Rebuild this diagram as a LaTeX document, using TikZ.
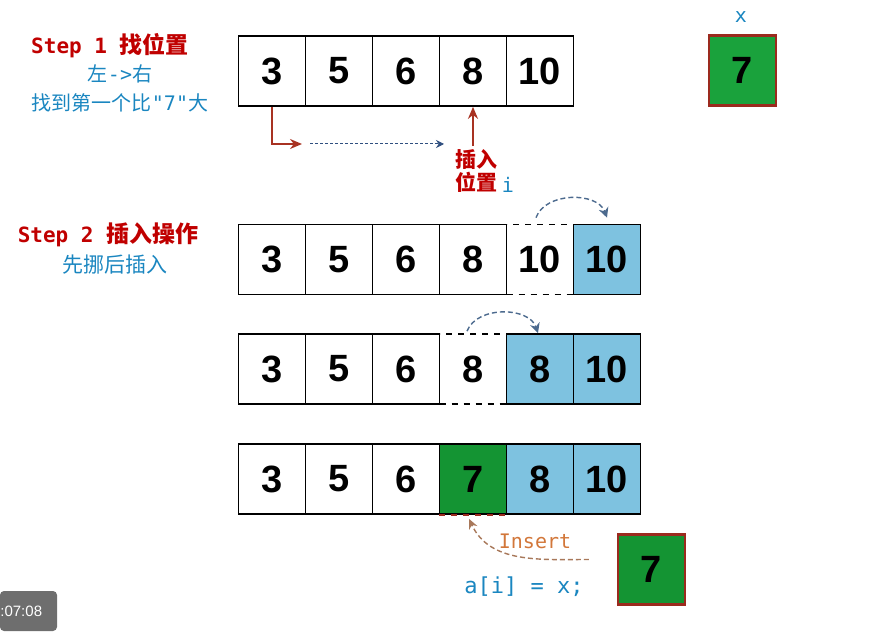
\documentclass[tikz,border=0pt]{standalone}
\usepackage{fontspec}
\setmainfont{Liberation Sans}
\setmonofont{DejaVu Sans Mono}
\newfontfamily\cjk{Noto Sans CJK SC}
\usetikzlibrary{arrows.meta}

\definecolor{txtred}{HTML}{C00000}
\definecolor{txtblue}{HTML}{1A86C0}
\definecolor{txtbrown}{HTML}{D2773A}
\definecolor{cellblue}{HTML}{7EC2E0}
\definecolor{cellgreen}{HTML}{1AA23C}
\definecolor{cellgreendk}{HTML}{149433}
\definecolor{boxred}{HTML}{9B2A1E}
\definecolor{arrowred}{HTML}{A83222}
\definecolor{arrowblue}{HTML}{2F4F7F}
\definecolor{arrowgrey}{HTML}{4C6A8E}
\definecolor{arrowbrown}{HTML}{A8785A}

\newcommand{\zh}[1]{{\cjk #1}}

\begin{document}
\begin{tikzpicture}[
    x=0.5pt, y=-0.5pt,
    cell/.style={draw=black, line width=0.85pt, fill=white, minimum width=33.5pt, minimum height=35pt,
      inner sep=0pt, font=\bfseries\fontsize{19}{19}\selectfont},
    moved/.style={cell, fill=cellblue},
    hole/.style={cell, dashed},
    newval/.style={cell, fill=cellgreen, draw=boxred, line width=1.1pt},
    steptitle/.style={text=txtred, font=\ttfamily\bfseries\fontsize{10.5}{12}\selectfont, inner sep=0pt},
    hint/.style={text=txtblue, font=\ttfamily\fontsize{10}{12}\selectfont, inner sep=0pt},
    redarrow/.style={-{Stealth[length=6pt, width=5pt]}, draw=arrowred, line width=1pt},
    scanarrow/.style={-{Stealth[length=4pt, width=4pt]}, draw=arrowblue, line width=0.5pt,
      dash pattern=on 1.5pt off 1pt},
    movearrow/.style={-{Stealth[length=5pt, width=5pt]}, draw=arrowgrey, line width=0.7pt,
      dash pattern=on 2.5pt off 1.5pt},
    insertarrow/.style={-{Stealth[length=5pt, width=4.5pt]}, draw=arrowbrown, line width=0.7pt,
      dash pattern=on 2.5pt off 1.5pt},
  ]
  \useasboundingbox (0,0) rectangle (895,636);

  % row y-positions
  \def\ya{71} \def\yb{259.5} \def\yc{369} \def\yd{479}

  % Step 1 -- find the position
  \node[steptitle] (s1) at (110,46) {Step 1 \zh{\fontsize{11.5}{12}\selectfont 找位置}};
  \node[hint] (s1a) at (120,74) {\zh{左}->\zh{右}};
  \node[hint] (s1b) at (120,103) {\zh{找到第一个比}"7"\zh{大}};

  \foreach \v [count=\i] in {3,5,6,8,10}
    \node[cell] (a\i) at ({205+67*\i},\ya) {\v};

  \node[hint] (xname) at (741,17) {x};
  \node[newval] (xbox) at (742.5,70.5) {7};

  % scan from left to right
  \coordinate (lend) at (302,144);
  \coordinate (scanstart) at (310,144);
  \coordinate (scanend) at (444,144);
  \draw[redarrow] (a1.south) |- (lend);
  \draw[scanarrow] (scanstart) -- (scanend);

  \node[text=txtred, font=\cjk\bfseries\fontsize{10.5}{11.5}\selectfont, align=center, inner sep=0pt]
    (pos) at (476,171) {插入\\位置};
  \node[hint] (iname) at (508,185) {i};
  \draw[redarrow] (a4.south |- pos.north) ++(0,-3) -- (a4.south);

  % Step 2 -- shift, then insert
  \node[steptitle] (s2) at (108,235) {Step 2 \zh{\fontsize{11.5}{12}\selectfont 插入操作}};
  \node[hint, font=\cjk\fontsize{10.5}{12}\selectfont] (s2a) at (115,265) {先挪后插入};

  \foreach \v [count=\i] in {3,5,6,8}
    \node[cell] (b\i) at ({205+67*\i},\yb) {\v};
  \node[hole] (b5) at (540,\yb) {10};
  \node[moved] (b6) at (607,\yb) {10};
  \draw[movearrow] ([shift={(-2pt,3pt)}]b5.north) to[bend left=70] ([yshift=3pt]b6.north);

  \foreach \v [count=\i] in {3,5,6}
    \node[cell] (c\i) at ({205+67*\i},\yc) {\v};
  \node[hole] (c4) at (473,\yc) {8};
  \node[moved] (c5) at (540,\yc) {8};
  \node[moved] (c6) at (607,\yc) {10};
  \draw[movearrow] ([shift={(-3pt,1pt)}]c4.north) to[bend left=70] ([xshift=-1pt]c5.north);

  \foreach \v [count=\i] in {3,5,6}
    \node[cell] (d\i) at ({205+67*\i},\yd) {\v};
  \node[cell, fill=cellgreendk] (d4) at (473,\yd) {7};
  \node[moved] (d5) at (540,\yd) {8};
  \node[moved] (d6) at (607,\yd) {10};
  \draw[boxred, dashed, line width=0.7pt] (d4.south west) -- (d4.south east);

  % insert x into a[i]
  \node[newval, fill=cellgreendk] (xnew) at (651.5,569.5) {7};
  \node[text=txtbrown, font=\ttfamily\fontsize{10}{12}\selectfont, inner sep=0pt] (ins) at (535,541) {Insert};
  \node[hint, font=\ttfamily\fontsize{11}{12}\selectfont] (code) at (524,587) {a[i] = x;};
  \draw[insertarrow] ([shift={(-14pt,5pt)}]xnew.west) to[out=180, in=-65] ([shift={(-2pt,-2pt)}]d4.south);

  % player time stamp
  \node[fill=black!57, rounded corners=2pt, minimum width=28.5pt, minimum height=20pt, inner sep=0pt]
    (clock) at (28.5,611) {};
  \node[text=white, font=\fontsize{7.5}{8}\selectfont, anchor=west, inner sep=0pt] (clocktxt) at (0,611) {:07:08};
\end{tikzpicture}
\end{document}
